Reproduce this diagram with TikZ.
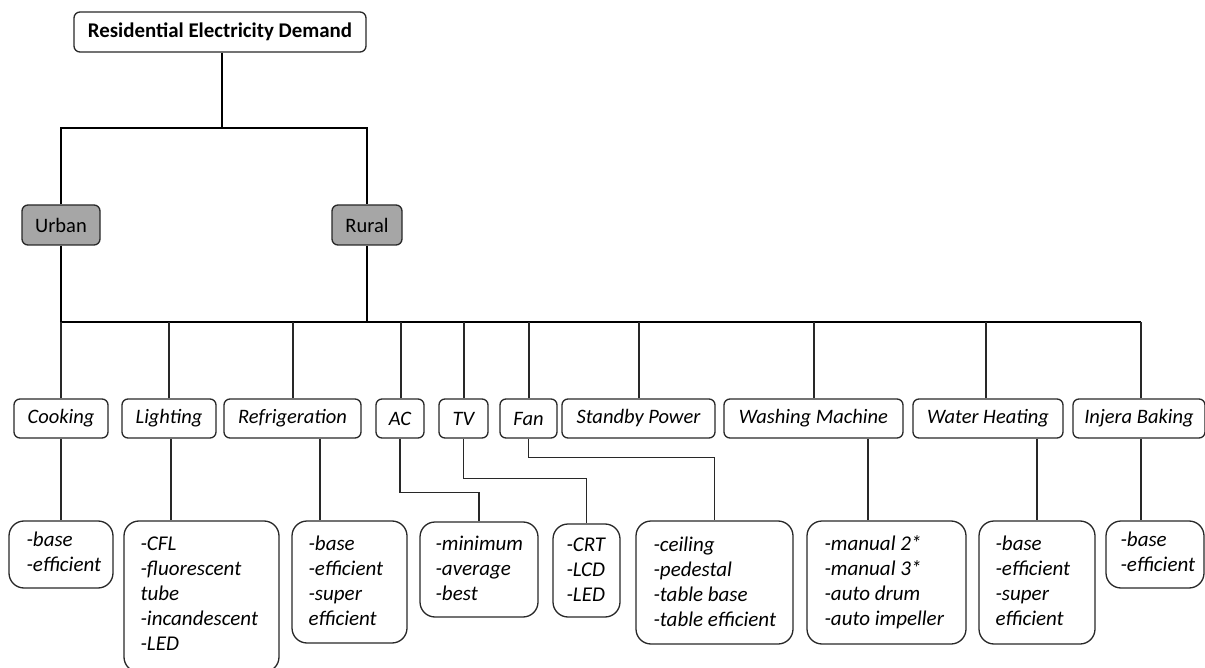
\documentclass[tikz,border=0pt]{standalone}
\usepackage{fontspec}
\setmainfont{Carlito}
\usetikzlibrary{calc}
\definecolor{regiongray}{RGB}{166,166,166}
\definecolor{edgecol}{RGB}{40,40,40}
\begin{document}
\begin{tikzpicture}[x=1pt,y=-1pt,
  mainline/.style={draw=black,line width=1.6pt},
  subline/.style={draw=edgecol,line width=1.1pt},
  box/.style={draw=edgecol,line width=1.3pt,rounded corners=6pt,inner sep=0pt,fill=white},
  rootbox/.style={box,minimum height=40pt,font=\fontsize{20.9}{25}\selectfont\bfseries},
  regionbox/.style={box,fill=regiongray,minimum height=40pt,font=\fontsize{20.5}{25}\selectfont},
  catbox/.style={box,minimum height=39pt,font=\fontsize{20.5}{25}\selectfont\itshape},
  detailbox/.style={box,rounded corners=15pt},
  detailtext/.style={anchor=base west,inner sep=0pt,font=\fontsize{21}{25}\selectfont\itshape}
]
\useasboundingbox (0,0) rectangle (1205,668);

% top level
\node[rootbox,minimum width=292pt] (root) at (220,32) {Residential Electricity Demand};
\node[regionbox,minimum width=78pt] (urban) at (61,225) {Urban};
\node[regionbox,minimum width=70pt] (rural) at (367,225) {Rural};

\coordinate (j1) at (222,128);
\coordinate (bus) at (0,322);
\draw[mainline] ($(root.south)+(2,0)$) -- (j1);
\draw[mainline] (urban.north) |- (j1) -| (rural.north);

% categories
\node[catbox,minimum width=94pt]  (cook)   at (61,418.5)   {Cooking};
\node[catbox,minimum width=94pt]  (light)  at (169,418.5)  {Lighting};
\node[catbox,minimum width=137pt] (refr)   at (292.5,418.5){Refrigeration};
\node[catbox,minimum width=48pt]  (ac)     at (400,418.5)  {AC};
\node[catbox,minimum width=49pt]  (tv)     at (463.5,418.5){TV};
\node[catbox,minimum width=57pt]  (fan)    at (528.5,418.5){Fan};
\node[catbox,minimum width=153pt] (stand)  at (638.5,418.5){Standby Power};
\node[catbox,minimum width=179pt] (wash)   at (813.5,418.5){Washing Machine};
\node[catbox,minimum width=150pt] (water)  at (988,418.5)  {Water Heating};
\node[catbox,minimum width=132pt] (injera) at (1139,418.5) {Injera Baking};

% bus
\draw[mainline] (urban.south) -- (urban.south |- bus) -- ($(injera.north |- bus)+(2,0)$);
\draw[mainline] (rural.south) -- (rural.south |- bus);
\foreach \n/\dx in {cook/0,light/0,refr/0.5,ac/1,tv/0.5,fan/0.5,stand/0.5,wash/0.5,water/-2,injera/2}{
  \draw[subline] ($(\n.north)+(\dx,0)$) -- ($(\n.north |- bus)+(\dx,0)$);
}

% detail boxes
\node[detailbox,minimum width=104pt,minimum height=67pt]  (dcook)   at (61,554.5)    {};
\node[detailbox,minimum width=155pt,minimum height=151pt] (dlight)  at (201.5,596.5) {};
\node[detailbox,minimum width=115pt,minimum height=122pt] (drefr)   at (349.5,582)   {};
\node[detailbox,minimum width=118pt,minimum height=95pt]  (dac)     at (479,569.5)   {};
\node[detailbox,minimum width=67pt,minimum height=93pt]   (dtv)     at (586.5,570.5) {};
\node[detailbox,minimum width=157pt,minimum height=123pt] (dfan)    at (714.5,582.5) {};
\node[detailbox,minimum width=159pt,minimum height=123pt] (dwash)   at (886.5,582.5) {};
\node[detailbox,minimum width=116pt,minimum height=123pt] (dwater)  at (1037,582.5)  {};
\node[detailbox,minimum width=98pt,minimum height=67pt]   (dinjera) at (1155,554.5)  {};

\node[detailtext] (tcook)   at ($(dcook.north west)+(18,26)$)   {\begin{tabular}[t]{@{}l@{}}-base\\-efficient\end{tabular}};
\node[detailtext] (tlight)  at ($(dlight.north west)+(17,30)$)  {\begin{tabular}[t]{@{}l@{}}-CFL\\-fluorescent\\tube\\-incandescent\\-LED\end{tabular}};
\node[detailtext] (trefr)   at ($(drefr.north west)+(17,30)$)   {\begin{tabular}[t]{@{}l@{}}-base\\-efficient\\-super\\efficient\end{tabular}};
\node[detailtext] (tac)     at ($(dac.north west)+(16,29)$)     {\begin{tabular}[t]{@{}l@{}}-minimum\\-average\\-best\end{tabular}};
\node[detailtext] (ttv)     at ($(dtv.north west)+(14,28)$)     {\begin{tabular}[t]{@{}l@{}}-CRT\\-LCD\\-LED\end{tabular}};
\node[detailtext] (tfan)    at ($(dfan.north west)+(18,31)$)    {\begin{tabular}[t]{@{}l@{}}-ceiling\\-pedestal\\-table base\\-table efficient\end{tabular}};
\node[detailtext] (twash)   at ($(dwash.north west)+(18,30)$)   {\begin{tabular}[t]{@{}l@{}}-manual 2*\\-manual 3*\\-auto drum\\-auto impeller\end{tabular}};
\node[detailtext] (twater)  at ($(dwater.north west)+(17,30)$)  {\begin{tabular}[t]{@{}l@{}}-base\\-efficient\\-super\\efficient\end{tabular}};
\node[detailtext] (tinjera) at ($(dinjera.north west)+(15,26)$) {\begin{tabular}[t]{@{}l@{}}-base\\-efficient\end{tabular}};

% category to detail connectors
\draw[subline] (cook.south) -- (dcook.north);
\draw[subline] ($(light.south)+(2,0)$) -- ($(light.south |- dlight.north)+(2,0)$);
\draw[subline] ($(refr.south)+(27.5,0)$) -- ($(refr.south |- drefr.north)+(27.5,0)$);
\draw[subline] (ac.south) |- ($(dac.north)+(0,-29)$) -- (dac.north);
\draw[subline] (tv.south) |- ($(dtv.north)+(0,-45)$) -- (dtv.north);
\draw[subline] (fan.south) |- ($(dfan.north)+(0,-63)$) -- (dfan.north);
\draw[subline] ($(wash.south)+(54.5,0)$) -- ($(wash.south |- dwash.north)+(54.5,0)$);
\draw[subline] (dwater.north |- water.south) -- (dwater.north);
\draw[subline] ($(injera.south)+(2,0)$) -- ($(injera.south |- dinjera.north)+(2,0)$);
\end{tikzpicture}
\end{document}
